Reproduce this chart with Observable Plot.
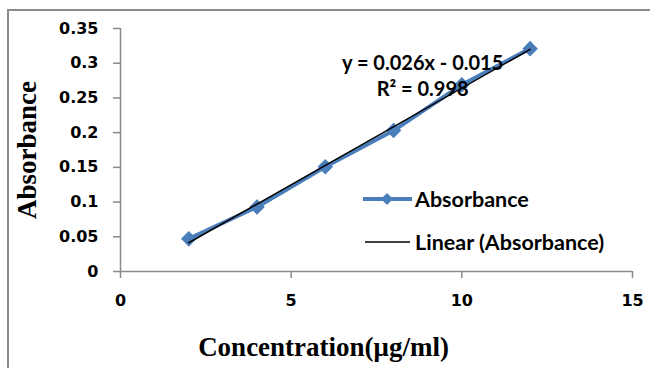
<!DOCTYPE html>
<html>
<head>
<meta charset="utf-8">
<script src="https://cdn.jsdelivr.net/npm/d3@7"></script>
<script src="https://cdn.jsdelivr.net/npm/@observablehq/plot@0.6"></script>
<style>
  body { margin: 0; background: #fff; }
  #wrap { position: relative; width: 650px; height: 368px; overflow: hidden; }
  #border { position: absolute; left: 7px; top: 9px; width: 700px; height: 400px;
            border-left: 2px solid #8a8a8a; border-top: 2px solid #8a8a8a; }
  .ov { position: absolute; font-family: Lato, "Open Sans", sans-serif; font-weight: bold; color: #000; white-space: nowrap; }
  #chart g[aria-label$="tick label"], #chart g[aria-label$="tick label"] text {
    font-size: 16px !important; font-weight: bold !important; font-family: "DejaVu Sans", sans-serif !important; }
</style>
</head>
<body>
<div id="wrap">
  <div id="border"></div>
  <div id="chart"></div>
  <div class="ov" id="eq" style="left:342px; top:49px; font-size:20px; text-align:center; line-height:26px;"></div>
  <div class="ov" id="legend" style="left:362px; top:186px; font-size:21.5px; line-height:42px;"></div>
</div>
<script>
const concentration = [2, 4, 6, 8, 10, 12];
const absorbance = [0.047, 0.093, 0.151, 0.203, 0.269, 0.321];
const yTicks = [0, 0.05, 0.1, 0.15, 0.2, 0.25, 0.3, 0.35];
const xTicks = [0, 5, 10, 15];
const equationLines = ["y = 0.026x - 0.015", "R² = 0.998"];
const seriesName = "Absorbance";
const trendName = "Linear (Absorbance)";
const xLabel = "Concentration(μg/ml)";
const yLabel = "Absorbance";

const data = concentration.map((c, i) => ({c, a: absorbance[i]}));
const blue = "#4a7ebb";
const grey = "#8a8a8a";
const serif = "'Liberation Serif', 'Times New Roman', serif";

const chart = Plot.plot({
  width: 650,
  height: 368,
  marginLeft: 120,
  marginRight: 18,
  marginTop: 28,
  marginBottom: 97,
  style: {background: "transparent", fontFamily: "'DejaVu Sans', sans-serif", fontSize: "16px", fontWeight: "bold", color: "#000"},
  x: {domain: [0, 15]},
  y: {domain: [0, 0.35]},
  marks: [
    Plot.ruleY([0], {stroke: grey, strokeWidth: 1.5}),
    Plot.ruleX([0], {stroke: grey, strokeWidth: 1.5}),
    Plot.axisY({ticks: yTicks, tickSize: 7, tickPadding: 15, stroke: grey, strokeWidth: 1.5,
      tickFormat: d => String(+d.toFixed(2)), fill: "#000", label: null}),
    Plot.axisX({ticks: xTicks, tickSize: 7, tickPadding: 16, stroke: grey, strokeWidth: 1.5,
      fill: "#000", label: null}),
    Plot.line(data, {x: "c", y: "a", stroke: blue, strokeWidth: 4}),
    Plot.dot(data, {x: "c", y: "a", symbol: "diamond2", r: 7, fill: blue, stroke: "none"}),
    Plot.linearRegressionY(data, {x: "c", y: "a", ci: 0, stroke: "#000", strokeWidth: 1.5}),
    Plot.text([xLabel], {frameAnchor: "bottom", dx: -53, dy: 84, text: d => d, fontSize: 27, fontWeight: "bold",
      fontFamily: serif, fill: "#000"}),
    Plot.text([yLabel], {frameAnchor: "left", textAnchor: "middle", dx: -93, rotate: -90, text: d => d, fontSize: 27, fontWeight: "bold",
      fontFamily: serif, fill: "#000"})
  ]
});
document.getElementById("chart").appendChild(chart);

document.getElementById("eq").innerHTML = equationLines.map(s => `<div>${s}</div>`).join("");

document.getElementById("legend").innerHTML = `
  <div style="display:flex;align-items:center;height:26px;">
    <svg width="52" height="20" style="margin-right:1px"><line x1="1" y1="10" x2="50" y2="10" stroke="${blue}" stroke-width="4"/>
      <path d="M25,4 L31,10 L25,16 L19,10 Z" fill="${blue}"/></svg><span>${seriesName}</span></div>
  <div style="display:flex;align-items:center;height:26px;margin-top:17px;">
    <svg width="52" height="20" style="margin-right:1px"><line x1="3" y1="10" x2="48" y2="10" stroke="#000" stroke-width="1.5"/></svg><span>${trendName}</span></div>`;
</script>
</body>
</html>
